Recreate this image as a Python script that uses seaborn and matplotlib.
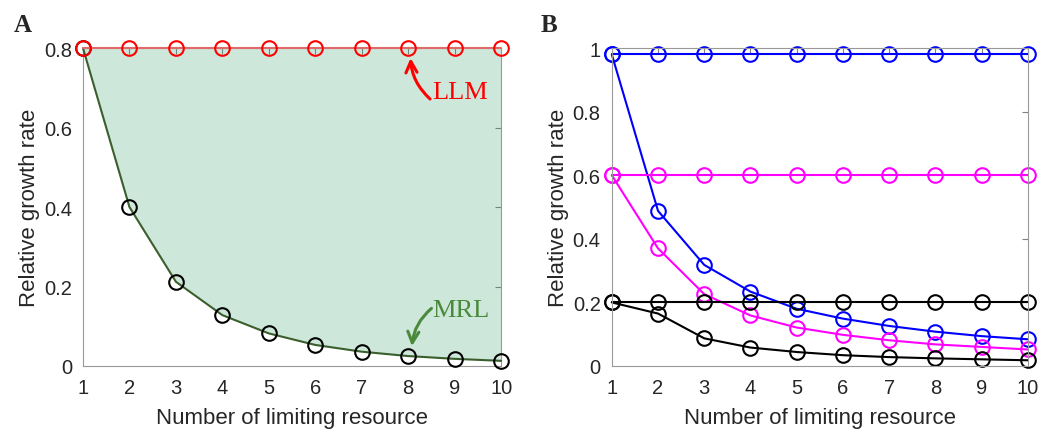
import numpy as np
import pandas as pd
import matplotlib
matplotlib.use("Agg")
import matplotlib.pyplot as plt
import seaborn as sns

# data
n_res = [1, 2, 3, 4, 5, 6, 7, 8, 9, 10]

llm_a = [0.8] * 10
mrl_a = [0.8, 0.40, 0.212, 0.128, 0.082, 0.053, 0.036, 0.025, 0.018, 0.013]

blue_flat = [0.98] * 10
blue_mrl = [0.98, 0.488, 0.318, 0.234, 0.180, 0.149, 0.126, 0.108, 0.094, 0.084]
mag_flat = [0.6] * 10
mag_mrl = [0.6, 0.370, 0.226, 0.159, 0.121, 0.098, 0.081, 0.068, 0.060, 0.052]
blk_flat = [0.2] * 10
blk_mrl = [0.2, 0.165, 0.087, 0.058, 0.044, 0.034, 0.028, 0.024, 0.021, 0.018]

sns.set_theme(style="white")
plt.rcParams['font.family'] = ['Liberation Sans', 'DejaVu Sans']

fig = plt.figure(figsize=(10.64, 4.31), dpi=100)
axA = fig.add_axes([0.078, 0.1485, 0.393, 0.7375])
axB = fig.add_axes([0.575, 0.1485, 0.391, 0.7375])

mk = dict(marker='o', markersize=10.5, markerfacecolor='none', markeredgewidth=1.5,
          linewidth=1.5, clip_on=False)

# panel A
dfA = pd.DataFrame({'n': n_res, 'llm': llm_a, 'mrl': mrl_a})
axA.fill_between(dfA['n'], dfA['mrl'], dfA['llm'], color='#3fa373', alpha=0.25, linewidth=0, zorder=1)
sns.lineplot(data=dfA, x='n', y='mrl', ax=axA, color='#3b5f2c', markeredgecolor='black', zorder=3, **mk)
sns.lineplot(data=dfA, x='n', y='llm', ax=axA, color='#e06a6a', markeredgecolor='red', zorder=4, **mk)
axA.set_ylim(0, 0.8)
axA.set_yticks([0, 0.2, 0.4, 0.6, 0.8])
axA.set_yticklabels(['0', '0.2', '0.4', '0.6', '0.8'])

axA.text(8.52, 0.69, 'LLM', color='red', fontsize=19, family='Liberation Serif', va='center', ha='left')
axA.annotate('', xy=(8.05, 0.775), xytext=(8.47, 0.672),
             arrowprops=dict(arrowstyle='->', color='red', lw=2.2, connectionstyle='arc3,rad=-0.2',
                             shrinkA=0, shrinkB=0, mutation_scale=20))
axA.text(8.52, 0.14, 'MRL', color='#4a8a3a', fontsize=19, family='Liberation Serif', va='center', ha='left')
axA.annotate('', xy=(8.08, 0.05), xytext=(8.5, 0.145),
             arrowprops=dict(arrowstyle='->', color='#4a8a3a', lw=2.2, connectionstyle='arc3,rad=0.2',
                             shrinkA=0, shrinkB=0, mutation_scale=20))

# panel B
dfB = pd.DataFrame({'n': n_res, 'bf': blue_flat, 'bm': blue_mrl, 'mf': mag_flat,
                    'mm': mag_mrl, 'kf': blk_flat, 'km': blk_mrl})
for col, c in [('bf', 'blue'), ('bm', 'blue'), ('mf', 'magenta'), ('mm', 'magenta'),
               ('kf', 'black'), ('km', 'black')]:
    sns.lineplot(data=dfB, x='n', y=col, ax=axB, color=c, markeredgecolor=c, **mk)
axB.set_ylim(0, 1)
axB.set_yticks([0, 0.2, 0.4, 0.6, 0.8, 1])
axB.set_yticklabels(['0', '0.2', '0.4', '0.6', '0.8', '1'])

for ax in (axA, axB):
    ax.set_xlim(1, 10)
    ax.set_xticks(n_res)
    ax.set_xlabel('Number of limiting resource', fontsize=16, color='#262626', labelpad=7)
    ax.set_ylabel('Relative growth rate', fontsize=16, color='#262626', labelpad=3)
    ax.tick_params(direction='in', length=4, width=0.8, colors='#808080', labelcolor='#262626',
                   labelsize=14.5, top=True, right=True)
    ax.tick_params(axis='x', pad=9)
    ax.tick_params(axis='y', pad=8)
    for s in ax.spines.values():
        s.set_color('#999999')
        s.set_linewidth(0.8)

fig.text(0.013, 0.94, 'A', fontsize=18, fontweight='bold', family='Liberation Serif', va='center')
fig.text(0.508, 0.94, 'B', fontsize=18, fontweight='bold', family='Liberation Serif', va='center')

fig.savefig('out.png', dpi=100)
